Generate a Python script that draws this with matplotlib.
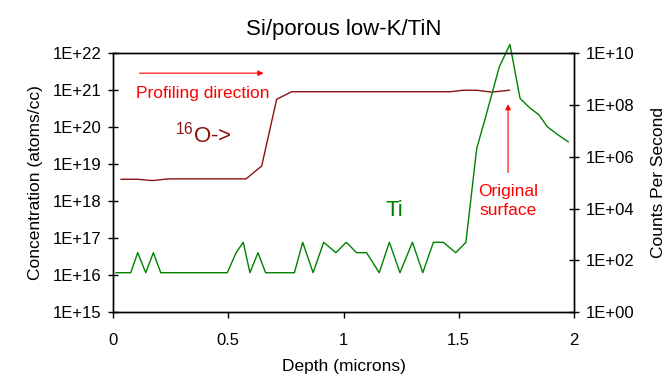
import matplotlib
matplotlib.use("Agg")
import matplotlib.pyplot as plt
import numpy as np

plt.rcParams['font.family'] = ['Liberation Sans', 'DejaVu Sans']
plt.rcParams['mathtext.default'] = 'regular'

# 16O concentration (atoms/cc) vs depth (microns)
o_depth = [0.035, 0.104, 0.172, 0.24, 0.577, 0.645, 0.71, 0.775, 1.462, 1.519, 1.578, 1.643, 1.72]
o_conc = [3.9e18, 3.9e18, 3.6e18, 4.0e18, 4.0e18, 8.9e18, 5.7e20, 9.1e20, 9.1e20, 1.0e21, 1.0e21, 8.9e20, 1.0e21]

# Ti counts per second vs depth (microns)
ti_depth = [0.013, 0.077, 0.107, 0.142, 0.175, 0.207, 0.496, 0.534, 0.565, 0.594,
            0.629, 0.662, 0.787, 0.823, 0.868, 0.914, 0.967, 1.012, 1.057, 1.1,
            1.155, 1.199, 1.245, 1.299, 1.344, 1.39, 1.433, 1.487, 1.531, 1.578,
            1.621, 1.676, 1.722, 1.766, 1.81, 1.849, 1.884, 1.932, 1.975]
ti_cps = [33, 33, 196, 33, 196, 33, 33, 196, 494, 33,
          196, 33, 33, 494, 33, 494, 196, 494, 196, 196,
          33, 494, 33, 494, 33, 494, 494, 196, 494, 2.1e6,
          4.8e7, 3.0e9, 2.2e10, 1.8e8, 7.5e7, 4.1e7, 1.45e7, 6.9e6, 3.8e6]

fig = plt.figure(figsize=(6.7, 3.79), dpi=100)
ax = fig.add_axes([0.1687, 0.1768, 0.6880, 0.6826])
ax2 = ax.twinx()

ax.plot(o_depth, o_conc, color='#8B1010', lw=1.0)
ax2.plot(ti_depth, ti_cps, color='#008000', lw=1.0, clip_on=False)

ax.set_yscale('log')
ax.set_ylim(1e15, 1e22)
ax.set_xlim(0, 2)
ax.set_xticks([0, 0.5, 1, 1.5, 2])
ax.set_xticklabels(['0', '0.5', '1', '1.5', '2'])
ax.set_yticks([10.0**k for k in range(15, 23)])
ax.set_yticklabels(['1E+%d' % k for k in range(15, 23)])

ax2.set_yscale('log')
ax2.set_ylim(1, 1e10)
ax2.set_yticks([10.0**k for k in range(0, 11, 2)])
ax2.set_yticklabels(['1E+%02d' % k for k in range(0, 11, 2)])

for a in (ax, ax2):
    a.tick_params(axis='y', which='major', direction='inout', length=7, width=1, labelsize=12, pad=5)
    a.tick_params(axis='y', which='minor', direction='out', length=3, width=0.6)
    for s in a.spines.values():
        s.set_linewidth(1.0)
ax.tick_params(axis='x', which='major', direction='out', length=4, width=1, labelsize=12, pad=11)
ax.tick_params(axis='x', which='minor', bottom=False)

ax.set_xlabel('Depth (microns)', fontsize=12.5, labelpad=8)
ax.set_ylabel('Concentration (atoms/cc)', fontsize=12.5, labelpad=7)
ax2.set_ylabel('Counts Per Second', fontsize=12.5, labelpad=12)
ax.set_title('Si/porous low-K/TiN', fontsize=16, pad=13)

# annotations
ax.annotate('', xy=(0.665, 2.9e21), xytext=(0.103, 2.9e21),
            arrowprops=dict(arrowstyle='-|>', color='red', lw=0.8, mutation_scale=8))
ax.text(0.39, 8.3e20, 'Profiling direction', color='red', fontsize=12.5, ha='center', va='center')
ax.annotate('', xy=(1.714, 5.0e20), xytext=(1.714, 5.0e18),
            arrowprops=dict(arrowstyle='-|>', color='red', lw=0.8, mutation_scale=8))
ax.text(1.714, 1.0e18, 'Original\nsurface', color='red', fontsize=12.5, ha='center', va='center',
        linespacing=1.35)
ax.text(0.39, 6.2e19, r'$^{16}$O->', color='#8B1010', fontsize=16, ha='center', va='center')
ax.text(1.22, 5.5e17, 'Ti', color='#008000', fontsize=16, ha='center', va='center')

fig.savefig('out.png', dpi=100)
